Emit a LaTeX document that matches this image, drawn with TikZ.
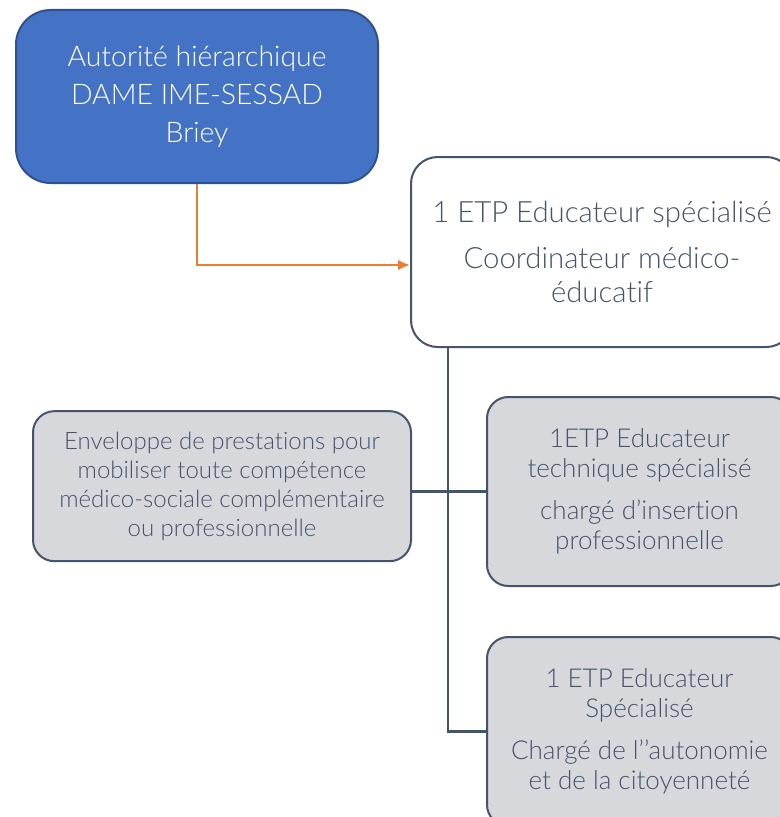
\documentclass[tikz,border=0pt]{standalone}
\usepackage{fontspec}
\setmainfont{Lato Light}[Ligatures={TeX,NoCommon}]
\usetikzlibrary{positioning,arrows.meta}
\def\pu{0.75pt}
\definecolor{bleu}{HTML}{4472C4}
\definecolor{bleufonce}{HTML}{2F528F}
\definecolor{ardoise}{HTML}{44546A}
\definecolor{gris}{HTML}{D6D8DC}
\definecolor{orangec}{HTML}{ED7D31}
\tikzstyle{box}=[draw=ardoise,line width=1.5pt,align=center,text=ardoise,inner sep=0pt]
\tikzstyle{chef}=[box,draw=bleufonce,fill=bleu,text=white,rounded corners=26pt,
  minimum width=362*\pu,minimum height=173*\pu,font=\fontsize{21.3}{28.5}\selectfont]
\tikzstyle{coordo}=[box,fill=white,rounded corners=20pt,
  minimum width=382*\pu,minimum height=190*\pu,font=\fontsize{22}{25.5}\selectfont]
\tikzstyle{poste}=[box,fill=gris,rounded corners=16pt,
  minimum width=305*\pu,minimum height=189*\pu,font=\fontsize{19.5}{22.5}\selectfont]
\tikzstyle{env}=[box,fill=gris,rounded corners=16pt,
  minimum width=378*\pu,minimum height=150*\pu,font=\fontsize{18}{21.75}\selectfont]
\tikzstyle{lien}=[ardoise,line width=2.2pt]
\newcommand{\newBox}[4]{\node[#3](#1)[#4]{#2};}

\begin{document}
\begin{tikzpicture}[x=\pu,y=-\pu,
      >={Latex[length=9pt,width=8pt]}
      ]
      \useasboundingbox (0,0) rectangle (780,817);
      \clip (0,0) rectangle (780,817);
      \newBox{top}{Autorité hiérarchique\\DAME IME-SESSAD\\Briey}{chef}{at={(197,96.5)}}
      \newBox{coord}{1 ETP Educateur spécialisé\\[9pt]Coordinateur médico-\\éducatif}{coordo}{below right=-28*\pu and 31*\pu of top.south east}
      \newBox{mid}{1ETP Educateur\\technique spécialisé\\[9pt]chargé d’insertion\\professionnelle}{poste}{below right=48*\pu and 76*\pu of coord.south west}
      \newBox{bas}{1 ETP Educateur\\Spécialisé\\[9pt]Chargé de l’’autonomie\\et de la citoyenneté}{poste}{below=49*\pu of mid}
      \newBox{envel}{Enveloppe de prestations pour\\mobiliser toute compétence\\médico-sociale complémentaire\\ou professionnelle}{env}{left=74*\pu of mid,yshift=4pt}
      % liens
      \draw[->,orangec,line width=2pt] (top.south) |- ([yshift=-13*\pu]coord.west);
      \coordinate (tronc) at ([xshift=38*\pu]coord.south west);
      \draw[lien] (tronc) |- (bas.west);
      \draw[lien] (mid.west -| envel.east) -- (mid.west);
    \end{tikzpicture}
\end{document}
